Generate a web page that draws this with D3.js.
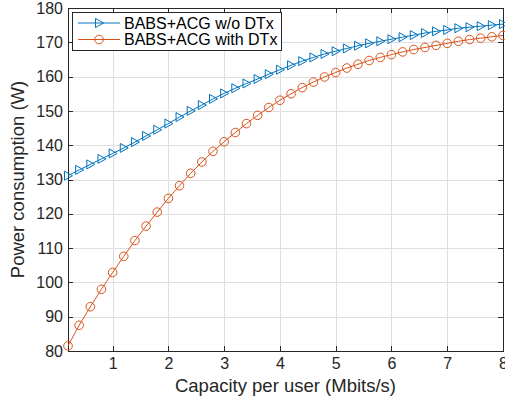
<!DOCTYPE html>
<html>
<head>
<meta charset="utf-8">
<style>
  body { margin: 0; background: #fff; font-family: "Liberation Sans", Arial, sans-serif; }
  .grid line { stroke: #dfdfdf; stroke-width: 1; shape-rendering: crispEdges; }
  .axis path, .axis line { stroke: #262626; shape-rendering: crispEdges; }
  .axis text { fill: #262626; font-size: 16px; font-family: "Liberation Sans", Arial, sans-serif; }
</style>
<script src="https://d3js.org/d3.v7.min.js"></script>
</head>
<body>
<script>
var capacity = [0.2,0.4,0.6,0.8,1.0,1.2,1.4,1.6,1.8,2.0,2.2,2.4,2.6,2.8,3.0,3.2,3.4,3.6,3.8,4.0,
                4.2,4.4,4.6,4.8,5.0,5.2,5.4,5.6,5.8,6.0,6.2,6.4,6.6,6.8,7.0,7.2,7.4,7.6,7.8,8.0];
var withoutDTx = [131.1,132.8,134.4,136.0,137.6,139.2,140.9,142.7,144.5,146.3,148.2,150.0,151.7,153.5,155.1,156.6,158.0,159.3,160.7,162.0,
                  163.3,164.5,165.6,166.6,167.4,168.2,169.0,169.7,170.3,170.9,171.5,172.1,172.7,173.2,173.6,174.1,174.4,174.7,175.0,175.3];
var withDTx = [81.5,87.5,92.9,98.0,102.9,107.6,112.2,116.4,120.5,124.5,128.2,131.8,135.1,138.2,141.0,143.7,146.3,148.7,151.0,153.1,
               155.0,156.8,158.4,159.9,161.2,162.5,163.6,164.7,165.6,166.4,167.2,167.9,168.5,169.1,169.7,170.3,170.8,171.2,171.6,172.0];
var xTicks = [1,2,3,4,5,6,7,8];
var yTicks = [80,90,100,110,120,130,140,150,160,170,180];
var seriesNames = ["BABS+ACG w/o DTx", "BABS+ACG with DTx"];

var width = 505, height = 405;
var margin = {top: 8, right: 2, bottom: 54, left: 68};
var w = width - margin.left - margin.right, h = height - margin.top - margin.bottom;
var blue = "#0072BD", orange = "#D95319";

var svg = d3.select("body").append("svg").attr("width", width).attr("height", height);
var g = svg.append("g").attr("transform", "translate(" + margin.left + "," + margin.top + ")");

var x = d3.scaleLinear().domain([0.2, 8]).range([0, w]);
var y = d3.scaleLinear().domain([80, 180]).range([h, 0]);

// grid
var grid = g.append("g").attr("class", "grid");
grid.selectAll(".gx").data(xTicks).enter().append("line")
    .attr("x1", function (d) { return Math.round(x(d)) + 0.5; })
    .attr("x2", function (d) { return Math.round(x(d)) + 0.5; })
    .attr("y1", 0).attr("y2", h);
grid.selectAll(".gy").data(yTicks).enter().append("line")
    .attr("y1", function (d) { return Math.round(y(d)) + 0.5; })
    .attr("y2", function (d) { return Math.round(y(d)) + 0.5; })
    .attr("x1", 0).attr("x2", w);

// axes (ticks inward on all four sides)
g.append("g").attr("class", "axis").attr("transform", "translate(0," + h + ")")
    .call(d3.axisBottom(x).tickValues(xTicks).tickSize(-5).tickPadding(7).tickFormat(d3.format("d")));
g.append("g").attr("class", "axis")
    .call(d3.axisTop(x).tickValues(xTicks).tickSize(-5).tickFormat(""));
g.append("g").attr("class", "axis")
    .call(d3.axisLeft(y).tickValues(yTicks).tickSize(-5).tickPadding(5).tickFormat(d3.format("d")));
g.append("g").attr("class", "axis").attr("transform", "translate(" + w + ",0)")
    .call(d3.axisRight(y).tickValues(yTicks).tickSize(-5).tickFormat(""));

// lines
var line = d3.line().x(function (d) { return x(d[0]); }).y(function (d) { return y(d[1]); });
var s1 = capacity.map(function (c, i) { return [c, withoutDTx[i]]; });
var s2 = capacity.map(function (c, i) { return [c, withDTx[i]]; });

g.append("path").datum(s1).attr("d", line).attr("fill", "none").attr("stroke", blue).attr("stroke-width", 1);
g.append("path").datum(s2).attr("d", line).attr("fill", "none").attr("stroke", orange).attr("stroke-width", 1);

function triangle(sel) {
  sel.attr("d", "M-3.5,-4.5L4.5,0L-3.5,4.5Z").attr("fill", "none").attr("stroke", blue).attr("stroke-width", 1);
}

g.selectAll(".tri").data(s1).enter().append("path")
    .attr("transform", function (d) { return "translate(" + x(d[0]) + "," + y(d[1]) + ")"; })
    .call(triangle);
g.selectAll(".circ").data(s2).enter().append("circle")
    .attr("cx", function (d) { return x(d[0]); })
    .attr("cy", function (d) { return y(d[1]); })
    .attr("r", 4.3).attr("fill", "none").attr("stroke", orange).attr("stroke-width", 1);

// legend
var lg = svg.append("g").attr("transform", "translate(72,12)");
lg.append("rect").attr("x", 0.5).attr("y", 0.5).attr("width", 209).attr("height", 38)
    .attr("fill", "#fff").attr("stroke", "#262626").attr("stroke-width", 1);
[0, 1].forEach(function (i) {
  var cy = 11 + i * 16.5;
  var col = i === 0 ? blue : orange;
  lg.append("line").attr("x1", 6).attr("x2", 48).attr("y1", cy).attr("y2", cy).attr("stroke", col);
  if (i === 0) lg.append("path").attr("transform", "translate(27," + cy + ")").call(triangle);
  else lg.append("circle").attr("cx", 27).attr("cy", cy).attr("r", 4.3).attr("fill", "none").attr("stroke", col);
  lg.append("text").attr("x", 52).attr("y", cy).attr("dy", "0.35em")
      .attr("font-size", 16).attr("fill", "#000").text(seriesNames[i]);
});

// axis labels
svg.append("text").attr("x", margin.left + w / 2).attr("y", 386).attr("dy", "0.35em").attr("text-anchor", "middle")
    .attr("font-size", 18.5).attr("fill", "#262626").text("Capacity per user (Mbits/s)");
svg.append("text").attr("transform", "translate(18," + (margin.top + h / 2) + ") rotate(-90)")
    .attr("dy", "0.35em").attr("text-anchor", "middle").attr("font-size", 18.5).attr("fill", "#262626").text("Power consumption (W)");
</script>
</body>
</html>
